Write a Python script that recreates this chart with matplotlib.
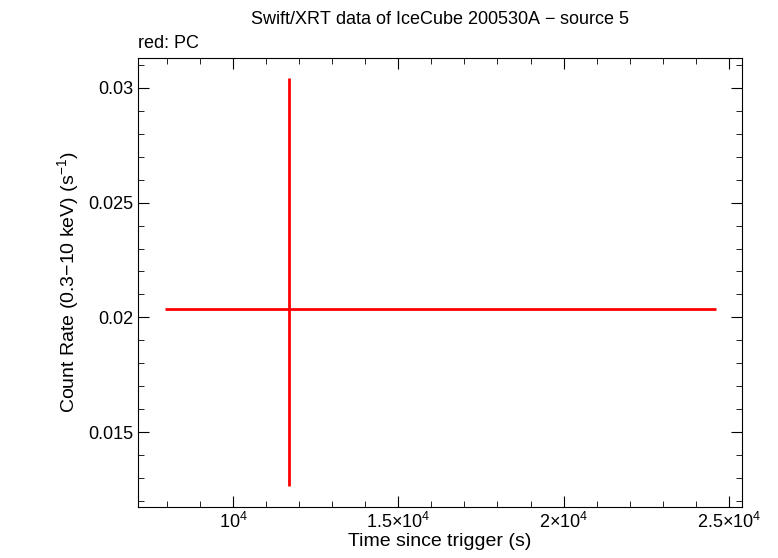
import matplotlib
matplotlib.use("Agg")
import matplotlib.pyplot as plt
from matplotlib.ticker import FixedLocator, MultipleLocator

plt.rcParams['font.family'] = ['Liberation Sans', 'DejaVu Sans']
plt.rcParams['mathtext.fontset'] = 'custom'
plt.rcParams['mathtext.rm'] = 'Liberation Sans'

x = [11692]
x_lo = [7946]
x_hi = [24607]
y = [0.02035]
y_lo = [0.01265]
y_hi = [0.03043]
xticks = [10000, 15000, 20000, 25000]
xticklabels = ["10$^4$", "1.5×10$^4$", "2×10$^4$", "2.5×10$^4$"]
yticks = [0.015, 0.02, 0.025, 0.03]
yticklabels = ["0.015", "0.02", "0.025", "0.03"]

fig = plt.figure(figsize=(7.78, 5.58), dpi=100)
ax = fig.add_axes([138/778, 1-507/558, (742-138)/778, (507-58)/558])
xerr = [[x[0]-x_lo[0]], [x_hi[0]-x[0]]]
yerr = [[y[0]-y_lo[0]], [y_hi[0]-y[0]]]
ax.errorbar(x, y, xerr=xerr, yerr=yerr, fmt='none', ecolor='red', elinewidth=2, capsize=0)
ax.set_xlim(7130, 25393)
ax.set_ylim(0.01174, 0.0313)
ax.xaxis.set_major_locator(FixedLocator(xticks))
ax.set_xticklabels(xticklabels)
ax.yaxis.set_major_locator(FixedLocator(yticks))
ax.set_yticklabels(yticklabels)
ax.xaxis.set_minor_locator(MultipleLocator(1000))
ax.yaxis.set_minor_locator(MultipleLocator(0.001))
ax.tick_params(which='both', direction='in', top=True, right=True, labelsize=13)
ax.tick_params(which='major', length=8)
ax.tick_params(which='minor', length=4)
ax.set_xlabel("Time since trigger (s)", fontsize=14, labelpad=1)
ax.set_ylabel("Count Rate (0.3$-$10 keV) (s$^{-1}$)", fontsize=14)
fig.text(440/778, 1-20/558, "Swift/XRT data of IceCube 200530A $-$ source 5", ha='center', va='center', fontsize=13)
fig.text(138/778, 1-43/558, "red: PC", ha='left', va='center', fontsize=13)
fig.savefig("out.png", dpi=100)
